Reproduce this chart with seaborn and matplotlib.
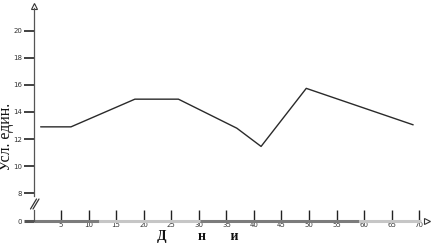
import matplotlib
matplotlib.use("Agg")
import matplotlib.pyplot as plt
from matplotlib.lines import Line2D
import seaborn as sns
import pandas as pd

# ---- data ----
days = [1.3, 6.8, 18.4, 26.3, 36.9, 41.3, 49.5, 68.9]
values = [12.9, 12.9, 14.95, 14.95, 12.8, 11.45, 15.75, 13.05]
y_ticks = [8, 10, 12, 14, 16, 18, 20]
x_ticks = [5, 10, 15, 20, 25, 30, 35, 40, 45, 50, 55, 60, 65, 70]
y_label = "Усл. един."
x_label = "Д         н       и"

sns.set_style("white")
plt.rcParams['font.family'] = ['DejaVu Sans']

W, H = 433, 243
fig = plt.figure(figsize=(W / 100, H / 100), dpi=100)

def frac_rect(left_px, top_px, right_px, bottom_px):
    return [left_px / W, 1 - bottom_px / H, (right_px - left_px) / W, (bottom_px - top_px) / H]

ax1 = fig.add_axes(frac_rect(33.5, 8, 433, 196))
ax2 = fig.add_axes(frac_rect(33.5, 210, 433, 229))

xmax = 72.5
df = pd.DataFrame({"day": days, "value": values})
sns.lineplot(data=df, x="day", y="value", ax=ax1, color="#2a2a2a", linewidth=1.0,
             estimator=None, sort=False)

# ---- top axes (8..20) ----
ax1.set_xlim(0, xmax)
ax1.set_ylim(7.78, 21.7)
ax1.set_yticks(y_ticks)
ax1.set_yticklabels([str(v) for v in y_ticks])
ax1.set_xticks([])
ax1.set_xlabel("")
ax1.set_ylabel("")
for s in ["top", "right", "bottom"]:
    ax1.spines[s].set_visible(False)
ax1.spines["left"].set_color("#555555")
ax1.spines["left"].set_linewidth(0.9)
ax1.tick_params(axis="y", direction="out", length=7, width=1.3, color="#333333",
                labelsize=5, labelcolor="#333333", pad=1, left=True)
ax1.patch.set_alpha(0)
# arrow on top of y axis
ax1.plot([0], [1.012], marker="^", markersize=4.5, mfc="white", mec="#333333",
         mew=0.8, transform=ax1.transAxes, clip_on=False)

# ---- bottom axes (0 level, x axis) ----
ax2.set_xlim(0, xmax)
ax2.set_ylim(-8, 11)
for s in ["top", "right", "bottom"]:
    ax2.spines[s].set_visible(False)
ax2.spines["left"].set_bounds(0, 11)
ax2.spines["left"].set_color("#555555")
ax2.spines["left"].set_linewidth(0.9)
ax2.set_yticks([0])
ax2.set_yticklabels(["0"])
ax2.tick_params(axis="y", direction="out", length=7, width=2.2, color="#555555",
                labelsize=5, labelcolor="#333333", pad=1, left=True)
ax2.set_xticks(x_ticks)
ax2.set_xticklabels([str(v) for v in x_ticks])
ax2.tick_params(axis="x", direction="in", length=8, width=1.0, color="#222222",
                labelsize=5, labelcolor="#333333", pad=1, bottom=True)
ax2.spines["bottom"].set_visible(True)
ax2.spines["bottom"].set_position(("data", 0))
ax2.spines["bottom"].set_alpha(0)
ax2.patch.set_alpha(0)
# segmented grey axis line
segs = [(0, 11.8, "#7c7c7c"), (11.8, 30.3, "#c6c6c6"), (30.3, 59, "#7c7c7c"), (59, 70.3, "#c6c6c6")]
for a, b, c in segs:
    ax2.plot([a, b], [0, 0], color=c, linewidth=2.2, solid_capstyle="butt", clip_on=False, zorder=1)
ax2.plot([71.4], [0.5], marker=">", markersize=5, mfc="white", mec="#333333", mew=0.8, clip_on=False)

# break marks
for dx in (0, 2.5):
    fig.add_artist(Line2D([(30.5 + dx) / W, (36.5 + dx) / W], [1 - 209 / H, 1 - 199 / H],
                          color="#333333", linewidth=0.9))

# labels
fig.text(6.5 / W, 1 - 137 / H, y_label, rotation=90, ha="center", va="center",
         fontsize=11.5, family=["Liberation Serif"], color="#111111")
fig.text(198 / W, 1 - 242.5 / H, x_label, ha="center", va="bottom",
         fontsize=10, family=["Liberation Serif"], color="#111111", fontweight="bold")

fig.savefig("out.png", dpi=100)
